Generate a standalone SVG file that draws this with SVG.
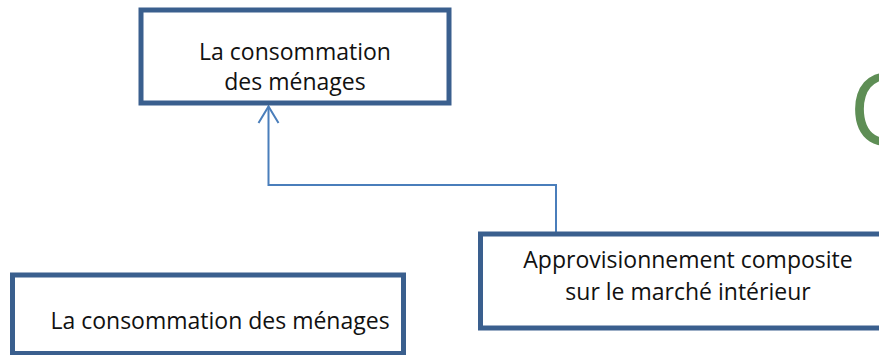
<svg xmlns="http://www.w3.org/2000/svg" width="879" height="355" viewBox="0 0 879 355">
<style>
.box{fill:#ffffff;stroke:#3A5F8E;stroke-width:5}
.lbl{font-family:"Open Sans","Liberation Sans",sans-serif;font-size:23px;fill:#111111;text-anchor:middle}
.con{fill:none;stroke:#4A7EBB;stroke-width:2}
</style>
<rect width="879" height="355" fill="#ffffff"/>
<text x="849" y="145" font-family="Open Sans, Liberation Sans, sans-serif" font-size="100" fill="#5E8E55">C</text>
<g id="connectors">
<polyline class="con" points="556,232 556,185 268.5,185 268.5,106.5"/>
<polyline class="con" points="258.5,123 268.5,106.5 278.5,123"/>
</g>
<g id="node-top">
<rect class="box" x="141" y="10" width="308" height="93"/>
<text class="lbl" x="295" y="60">La consommation</text>
<text class="lbl" x="295" y="90">des ménages</text>
</g>
<g id="node-right">
<rect class="box" x="480.5" y="234" width="420" height="94"/>
<text class="lbl" x="688" y="268">Approvisionnement composite</text>
<text class="lbl" x="688" y="300">sur le marché intérieur</text>
</g>
<g id="node-bottom">
<rect class="box" x="12.5" y="275" width="391" height="78.5"/>
<text class="lbl" x="220" y="329">La consommation des ménages</text>
</g>
</svg>
